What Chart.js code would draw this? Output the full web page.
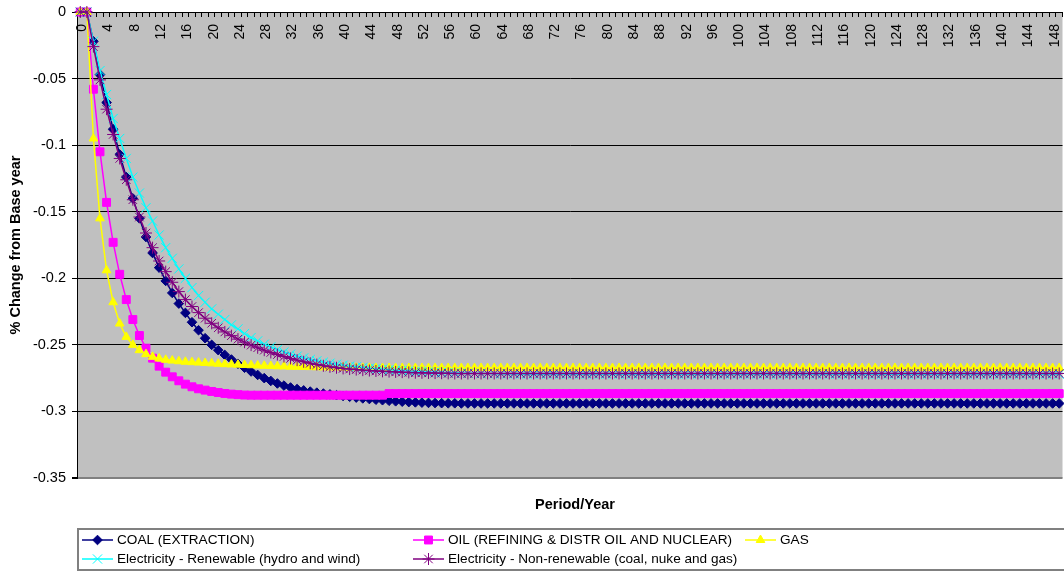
<!DOCTYPE html>
<html>
<head>
<meta charset="utf-8">
<script src="https://cdn.jsdelivr.net/npm/chart.js"></script>
<style>
  html, body { margin: 0; padding: 0; background: #fff; overflow: hidden; }
  canvas { display: block; }
</style>
</head>
<body>
<canvas id="chart" width="1070" height="572"></canvas>
<script>
// ---- data ----
var periods = [
  0, 1, 2, 3, 4, 5, 6, 7, 8, 9, 10, 11, 12, 13, 14, 15, 16, 17, 18, 19,
  20, 21, 22, 23, 24, 25, 26, 27, 28, 29, 30, 31, 32, 33, 34, 35, 36, 37, 38, 39,
  40, 41, 42, 43, 44, 45, 46, 47, 48, 49, 50, 51, 52, 53, 54, 55, 56, 57, 58, 59,
  60, 61, 62, 63, 64, 65, 66, 67, 68, 69, 70, 71, 72, 73, 74, 75, 76, 77, 78, 79,
  80, 81, 82, 83, 84, 85, 86, 87, 88, 89, 90, 91, 92, 93, 94, 95, 96, 97, 98, 99,
  100, 101, 102, 103, 104, 105, 106, 107, 108, 109, 110, 111, 112, 113, 114, 115, 116, 117, 118, 119,
  120, 121, 122, 123, 124, 125, 126, 127, 128, 129, 130, 131, 132, 133, 134, 135, 136, 137, 138, 139,
  140, 141, 142, 143, 144, 145, 146, 147, 148, 149
];

// x labels that are printed (every 4th period)
var xTickLabels = [0, 4, 8, 12, 16, 20, 24, 28, 32, 36, 40, 44, 48, 52, 56, 60, 64, 68, 72, 76,
  80, 84, 88, 92, 96, 100, 104, 108, 112, 116, 120, 124, 128, 132, 136, 140, 144, 148];

var yTickValues = [-0.35, -0.3, -0.25, -0.2, -0.15, -0.1, -0.05, 0];

var seriesNames = [
  'COAL (EXTRACTION)',
  'OIL (REFINING & DISTR OIL AND NUCLEAR)',
  'GAS',
  'Electricity - Renewable (hydro and wind)',
  'Electricity - Non-renewable (coal, nuke and gas)'
];

var coal = [
  0, 0, -0.022, -0.047, -0.068, -0.088, -0.107, -0.124, -0.140, -0.155,
  -0.169, -0.181, -0.192, -0.202, -0.211, -0.219, -0.226, -0.233, -0.239, -0.245,
  -0.250, -0.254, -0.2576, -0.261, -0.2642, -0.2672, -0.270, -0.2726, -0.275, -0.2771,
  -0.279, -0.2806, -0.282, -0.2832, -0.2842, -0.2851, -0.2859, -0.2866, -0.2872, -0.2878,
  -0.2884, -0.289, -0.2896, -0.2902, -0.2907, -0.2912, -0.2916, -0.292, -0.2924, -0.2927,
  -0.293, -0.2932, -0.2934, -0.2936, -0.2937, -0.2938, -0.2939, -0.2939, -0.294, -0.294,
  -0.294, -0.294, -0.294, -0.294, -0.294, -0.294, -0.294, -0.294, -0.294, -0.294,
  -0.294, -0.294, -0.294, -0.294, -0.294, -0.294, -0.294, -0.294, -0.294, -0.294,
  -0.294, -0.294, -0.294, -0.294, -0.294, -0.294, -0.294, -0.294, -0.294, -0.294,
  -0.294, -0.294, -0.294, -0.294, -0.294, -0.294, -0.294, -0.294, -0.294, -0.294,
  -0.294, -0.294, -0.294, -0.294, -0.294, -0.294, -0.294, -0.294, -0.294, -0.294,
  -0.294, -0.294, -0.294, -0.294, -0.294, -0.294, -0.294, -0.294, -0.294, -0.294,
  -0.294, -0.294, -0.294, -0.294, -0.294, -0.294, -0.294, -0.294, -0.294, -0.294,
  -0.294, -0.294, -0.294, -0.294, -0.294, -0.294, -0.294, -0.294, -0.294, -0.294,
  -0.294, -0.294, -0.294, -0.294, -0.294, -0.294, -0.294, -0.294, -0.294, -0.294
];

var oil = [
  0, 0, -0.058, -0.105, -0.143, -0.173, -0.197, -0.216, -0.231, -0.243,
  -0.2525, -0.26, -0.266, -0.2705, -0.274, -0.277, -0.2795, -0.2815, -0.283, -0.284,
  -0.285, -0.2858, -0.2865, -0.287, -0.2874, -0.2877, -0.2878, -0.2878, -0.2878, -0.2878,
  -0.2878, -0.2878, -0.2878, -0.2878, -0.2878, -0.2878, -0.2878, -0.2878, -0.2878, -0.2878,
  -0.2878, -0.2878, -0.2878, -0.2878, -0.2878, -0.2878, -0.2878, -0.2866, -0.2866, -0.2866,
  -0.2866, -0.2866, -0.2866, -0.2866, -0.2866, -0.2866, -0.2866, -0.2866, -0.2866, -0.2866,
  -0.2866, -0.2866, -0.2866, -0.2866, -0.2866, -0.2866, -0.2866, -0.2866, -0.2866, -0.2866,
  -0.2866, -0.2866, -0.2866, -0.2866, -0.2866, -0.2866, -0.2866, -0.2866, -0.2866, -0.2866,
  -0.2866, -0.2866, -0.2866, -0.2866, -0.2866, -0.2866, -0.2866, -0.2866, -0.2866, -0.2866,
  -0.2866, -0.2866, -0.2866, -0.2866, -0.2866, -0.2866, -0.2866, -0.2866, -0.2866, -0.2866,
  -0.2866, -0.2866, -0.2866, -0.2866, -0.2866, -0.2866, -0.2866, -0.2866, -0.2866, -0.2866,
  -0.2866, -0.2866, -0.2866, -0.2866, -0.2866, -0.2866, -0.2866, -0.2866, -0.2866, -0.2866,
  -0.2866, -0.2866, -0.2866, -0.2866, -0.2866, -0.2866, -0.2866, -0.2866, -0.2866, -0.2866,
  -0.2866, -0.2866, -0.2866, -0.2866, -0.2866, -0.2866, -0.2866, -0.2866, -0.2866, -0.2866,
  -0.2866, -0.2866, -0.2866, -0.2866, -0.2866, -0.2866, -0.2866, -0.2866, -0.2866, -0.2866
];

var gas = [
  0, 0, -0.095, -0.155, -0.194, -0.218, -0.234, -0.244, -0.25, -0.254,
  -0.257, -0.259, -0.2603, -0.2612, -0.2618, -0.2623, -0.2627, -0.263, -0.2633, -0.2636,
  -0.2639, -0.2642, -0.2645, -0.2647, -0.2649, -0.2651, -0.2653, -0.2655, -0.2657, -0.2659,
  -0.2661, -0.2662, -0.2664, -0.2665, -0.2666, -0.2667, -0.2668, -0.2669, -0.267, -0.267,
  -0.2671, -0.2672, -0.2672, -0.2673, -0.2673, -0.2674, -0.2674, -0.2674, -0.2674, -0.2674,
  -0.2674, -0.2674, -0.2674, -0.2674, -0.2674, -0.2674, -0.2674, -0.2674, -0.2674, -0.2674,
  -0.2674, -0.2674, -0.2674, -0.2674, -0.2674, -0.2674, -0.2674, -0.2674, -0.2674, -0.2674,
  -0.2674, -0.2674, -0.2674, -0.2674, -0.2674, -0.2674, -0.2674, -0.2674, -0.2674, -0.2674,
  -0.2674, -0.2674, -0.2674, -0.2674, -0.2674, -0.2674, -0.2674, -0.2674, -0.2674, -0.2674,
  -0.2674, -0.2674, -0.2674, -0.2674, -0.2674, -0.2674, -0.2674, -0.2674, -0.2674, -0.2674,
  -0.2674, -0.2674, -0.2674, -0.2674, -0.2674, -0.2674, -0.2674, -0.2674, -0.2674, -0.2674,
  -0.2674, -0.2674, -0.2674, -0.2674, -0.2674, -0.2674, -0.2674, -0.2674, -0.2674, -0.2674,
  -0.2674, -0.2674, -0.2674, -0.2674, -0.2674, -0.2674, -0.2674, -0.2674, -0.2674, -0.2674,
  -0.2674, -0.2674, -0.2674, -0.2674, -0.2674, -0.2674, -0.2674, -0.2674, -0.2674, -0.2674,
  -0.2674, -0.2674, -0.2674, -0.2674, -0.2674, -0.2674, -0.2674, -0.2674, -0.2674, -0.2674
];

var elecRenew = [
  0, 0, -0.022, -0.044, -0.062, -0.08, -0.095, -0.11, -0.124, -0.136,
  -0.147, -0.157, -0.1675, -0.177, -0.185, -0.193, -0.2, -0.207, -0.213, -0.218,
  -0.223, -0.227, -0.231, -0.235, -0.238, -0.2415, -0.2445, -0.247, -0.2495, -0.2515,
  -0.2535, -0.2553, -0.257, -0.2585, -0.2598, -0.261, -0.262, -0.263, -0.2638, -0.2646,
  -0.2653, -0.266, -0.2665, -0.267, -0.2675, -0.2679, -0.2683, -0.2687, -0.269, -0.2693,
  -0.2696, -0.2699, -0.2701, -0.2703, -0.2705, -0.2707, -0.2709, -0.271, -0.2712, -0.2713,
  -0.2714, -0.2715, -0.2716, -0.2717, -0.2718, -0.2718, -0.2719, -0.272, -0.272, -0.272,
  -0.272, -0.272, -0.272, -0.272, -0.272, -0.272, -0.272, -0.272, -0.272, -0.272,
  -0.272, -0.272, -0.272, -0.272, -0.272, -0.272, -0.272, -0.272, -0.272, -0.272,
  -0.272, -0.272, -0.272, -0.272, -0.272, -0.272, -0.272, -0.272, -0.272, -0.272,
  -0.272, -0.272, -0.272, -0.272, -0.272, -0.272, -0.272, -0.272, -0.272, -0.272,
  -0.272, -0.272, -0.272, -0.272, -0.272, -0.272, -0.272, -0.272, -0.272, -0.272,
  -0.272, -0.272, -0.272, -0.272, -0.272, -0.272, -0.272, -0.272, -0.272, -0.272,
  -0.272, -0.272, -0.272, -0.272, -0.272, -0.272, -0.272, -0.272, -0.272, -0.272,
  -0.272, -0.272, -0.272, -0.272, -0.272, -0.272, -0.272, -0.272, -0.272, -0.272
];

var elecNonRenew = [
  0, 0, -0.026, -0.051, -0.073, -0.092, -0.11, -0.126, -0.141, -0.154,
  -0.166, -0.177, -0.187, -0.195, -0.203, -0.21, -0.216, -0.2212, -0.2258, -0.23,
  -0.2338, -0.2372, -0.2403, -0.2431, -0.2457, -0.248, -0.2502, -0.2522, -0.254, -0.2557,
  -0.2573, -0.2588, -0.2602, -0.2615, -0.2627, -0.2638, -0.2648, -0.2657, -0.2665, -0.2672,
  -0.2677, -0.2682, -0.2686, -0.269, -0.2693, -0.2696, -0.2699, -0.2701, -0.2703, -0.2705,
  -0.2707, -0.2709, -0.271, -0.2711, -0.2712, -0.2713, -0.2714, -0.2715, -0.2715, -0.2715,
  -0.2715, -0.2715, -0.2715, -0.2715, -0.2715, -0.2715, -0.2715, -0.2715, -0.2715, -0.2715,
  -0.2715, -0.2715, -0.2715, -0.2715, -0.2715, -0.2715, -0.2715, -0.2715, -0.2715, -0.2715,
  -0.2715, -0.2715, -0.2715, -0.2715, -0.2715, -0.2715, -0.2715, -0.2715, -0.2715, -0.2715,
  -0.2715, -0.2715, -0.2715, -0.2715, -0.2715, -0.2715, -0.2715, -0.2715, -0.2715, -0.2715,
  -0.2715, -0.2715, -0.2715, -0.2715, -0.2715, -0.2715, -0.2715, -0.2715, -0.2715, -0.2715,
  -0.2715, -0.2715, -0.2715, -0.2715, -0.2715, -0.2715, -0.2715, -0.2715, -0.2715, -0.2715,
  -0.2715, -0.2715, -0.2715, -0.2715, -0.2715, -0.2715, -0.2715, -0.2715, -0.2715, -0.2715,
  -0.2715, -0.2715, -0.2715, -0.2715, -0.2715, -0.2715, -0.2715, -0.2715, -0.2715, -0.2715,
  -0.2715, -0.2715, -0.2715, -0.2715, -0.2715, -0.2715, -0.2715, -0.2715, -0.2715, -0.2715
];

// ---- styling ----
var FONT = '"Liberation Sans", Arial, sans-serif';

function makeSeries(i, data, color, style, radius) {
  return {
    label: seriesNames[i],
    data: data,
    borderColor: color,
    backgroundColor: color,
    pointBackgroundColor: color,
    pointBorderColor: color,
    pointStyle: style,
    pointRadius: radius,
    pointBorderWidth: 1,
    borderWidth: 1.5,
    tension: 0,
    clip: false,
    order: 4 - i   // later series drawn on top, like Excel
  };
}

var datasets = [
  makeSeries(0, coal, '#000080', 'rectRot', 4.8),
  makeSeries(1, oil, '#FF00FF', 'rect', 5.6),
  makeSeries(2, gas, '#FFFF00', 'triangle', 5),
  makeSeries(3, elecRenew, '#00FFFF', 'crossRot', 6.5),
  makeSeries(4, elecNonRenew, '#800080', 'star', 6)
];

// grey plot area
var plotBackground = {
  id: 'plotBackground',
  beforeDraw: function (chart) {
    var a = chart.chartArea, ctx = chart.ctx;
    ctx.save();
    ctx.fillStyle = '#C0C0C0';
    ctx.fillRect(a.left, a.top, a.right - a.left, a.bottom - a.top);
    ctx.restore();
  }
};

// x title + boxed legend laid out in 3 columns like the original
var legendBox = {
  id: 'legendBox',
  afterDraw: function (chart) {
    var ctx = chart.ctx;
    ctx.save();
    ctx.fillStyle = '#000';
    ctx.font = 'bold 14.5px ' + FONT;
    ctx.textAlign = 'center';
    ctx.textBaseline = 'middle';
    ctx.fillText('Period/Year', 575, 505);

    ctx.strokeStyle = '#808080';
    ctx.lineWidth = 2;
    ctx.strokeRect(78, 529, 1100, 41);

    var cols = [82, 413, 745];
    var rows = [540, 559];
    var slots = [[0, 0], [1, 0], [2, 0], [0, 1], [1, 1]];
    ctx.font = '13.6px ' + FONT;
    ctx.textAlign = 'left';
    datasets.forEach(function (ds, i) {
      var x = cols[slots[i][0]], y = rows[slots[i][1]];
      ctx.strokeStyle = ds.borderColor;
      ctx.fillStyle = ds.borderColor;
      ctx.lineWidth = 1.5;
      ctx.beginPath();
      ctx.moveTo(x, y);
      ctx.lineTo(x + 31, y);
      ctx.stroke();
      ctx.lineWidth = 1;
      Chart.helpers.drawPoint(ctx, {
        pointStyle: ds.pointStyle, radius: ds.pointRadius, borderWidth: 1, rotation: 0
      }, x + 15.5, y);
      ctx.fillStyle = '#000';
      ctx.fillText(ds.label, x + 35, y + 0.5);
    });
    ctx.restore();
  }
};

new Chart(document.getElementById('chart'), {
  type: 'line',
  data: { labels: periods, datasets: datasets },
  plugins: [plotBackground, legendBox],
  options: {
    responsive: false,
    animation: false,
    events: [],
    layout: { padding: { left: 0, top: 12, right: 3, bottom: 94 } },
    plugins: {
      legend: { display: false },
      tooltip: { enabled: false }
    },
    scales: {
      x: {
        type: 'category',
        offset: true,
        position: { y: 0 },
        afterFit: function (s) { s.height = 0; s.paddingLeft = 0; s.paddingRight = 0; },
        grid: {
          offset: true,
          drawOnChartArea: false,
          drawTicks: true,
          tickLength: 4,
          color: '#000',
          tickColor: '#000'
        },
        border: { display: true, color: '#000', width: 1 },
        ticks: {
          autoSkip: false,
          maxRotation: 90,
          minRotation: 90,
          padding: 8,
          labelOffset: 2,
          color: '#000',
          font: { family: FONT, size: 14 },
          callback: function (value, index) {
            var p = periods[index];
            return xTickLabels.indexOf(p) >= 0 ? String(p) : '';
          }
        }
      },
      y: {
        type: 'linear',
        min: -0.35,
        max: 0,
        afterFit: function (s) { s.width = 77; s.paddingTop = 0; s.paddingBottom = 0; },
        afterBuildTicks: function (s) {
          s.ticks = yTickValues.map(function (v) { return { value: v }; });
        },
        grid: {
          color: function (c) { return c.tick && c.tick.value === -0.35 ? '#808080' : '#000'; },
          lineWidth: function (c) { return c.tick && c.tick.value === -0.35 ? 2 : 1; },
          tickColor: '#000',
          tickLength: 5
        },
        border: { display: true, color: '#000', width: 1 },
        ticks: {
          padding: 6,
          color: '#000',
          font: { family: FONT, size: 14.5 },
          callback: function (v) { return String(v); }
        },
        title: {
          display: true,
          text: '% Change from Base year',
          color: '#000',
          padding: { top: 7, bottom: 0 },
          font: { family: FONT, size: 14.5, weight: 'bold' }
        }
      }
    }
  }
});
</script>
</body>
</html>
